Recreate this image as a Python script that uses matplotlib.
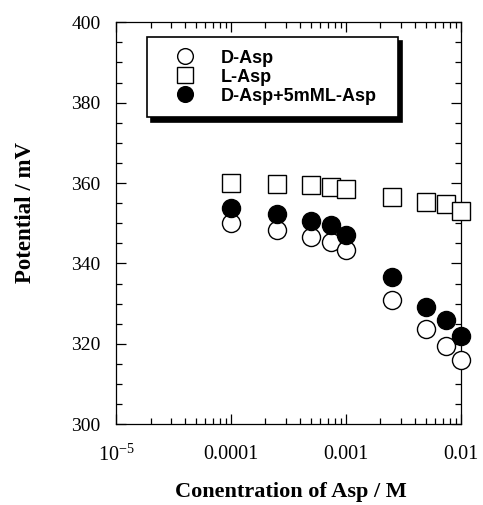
import matplotlib
matplotlib.use("Agg")
import matplotlib.pyplot as plt
from matplotlib.ticker import FixedLocator, FuncFormatter, MultipleLocator, LogLocator, NullFormatter

# concentrations (M)
conc = [0.0001, 0.00025, 0.0005, 0.00075, 0.001, 0.0025, 0.005, 0.0075, 0.01]
# potentials (mV)
d_asp = [350.0, 348.3, 346.6, 345.4, 343.3, 330.9, 323.8, 319.5, 316.0]
l_asp = [359.9, 359.7, 359.4, 358.9, 358.5, 356.6, 355.3, 354.9, 353.0]
d_asp_l = [353.9, 352.4, 350.6, 349.5, 347.0, 336.7, 329.1, 325.9, 322.0]

xticks = [1e-5, 1e-4, 1e-3, 1e-2]
xticklabels = [r"$\mathregular{10^{-5}}$", "0.0001", "0.001", "0.01"]

plt.rcParams['font.family'] = ['Liberation Serif', 'DejaVu Serif']
plt.rcParams['mathtext.fontset'] = 'stix'

fig = plt.figure(figsize=(4.83, 5.05), dpi=100)
ax = fig.add_axes([0.240, 0.160, 0.714, 0.796])

ax.plot(conc, l_asp, ls='none', marker='s', ms=12.5, mfc='white', mec='black', mew=1.0,
        label='L-Asp', clip_on=False, zorder=3)
ax.plot(conc, d_asp, ls='none', marker='o', ms=13, mfc='white', mec='black', mew=1.0,
        label='D-Asp', clip_on=False, zorder=3)
ax.plot(conc, d_asp_l, ls='none', marker='o', ms=13, mfc='black', mec='black', mew=1.0,
        label='D-Asp+5mML-Asp', clip_on=False, zorder=4)

ax.set_xscale('log')
ax.set_xlim(1e-5, 1e-2)
ax.set_ylim(300, 400)

ax.xaxis.set_major_locator(FixedLocator(xticks))
ax.xaxis.set_major_formatter(FuncFormatter(lambda v, p: xticklabels[xticks.index(v)] if v in xticks else ""))
ax.xaxis.set_minor_locator(LogLocator(base=10, subs=range(2, 10)))
ax.xaxis.set_minor_formatter(NullFormatter())
ax.yaxis.set_major_locator(MultipleLocator(20))
ax.yaxis.set_minor_locator(MultipleLocator(5))

ax.tick_params(which='both', direction='in', top=True, right=True, width=0.9)
ax.tick_params(which='major', length=7.5)
ax.tick_params(which='minor', length=4)
ax.tick_params(axis='x', which='major', labelsize=14.5, pad=15)
ax.tick_params(axis='y', which='major', labelsize=14, pad=11)
for s in ax.spines.values():
    s.set_linewidth(0.9)

ax.set_xlabel('Conentration of Asp / M', fontsize=16, fontweight='bold', va='top')
ax.set_ylabel('Potential / mV', fontsize=16.5, fontweight='bold')
ax.xaxis.set_label_coords(0.507, -0.143)
ax.yaxis.set_label_coords(-0.232, 0.527)

h, l = ax.get_legend_handles_labels()
order = [1, 0, 2]
leg = ax.legend([h[i] for i in order], [l[i] for i in order],
                loc='upper left', bbox_to_anchor=(0.09, 0.963, 0.728, 0.0), mode='expand',
                fancybox=False, edgecolor='black', framealpha=1,
                shadow={'color': 'black', 'alpha': 1, 'ox': 3, 'oy': -3},
                prop={'family': 'Liberation Sans', 'weight': 'bold', 'size': 13},
                handlelength=2.8, handletextpad=0.6, labelspacing=0.11, borderpad=0.7,
                borderaxespad=0, markerscale=0.87)
leg.get_frame().set_linewidth(1.2)

fig.savefig('out.png', dpi=100)
